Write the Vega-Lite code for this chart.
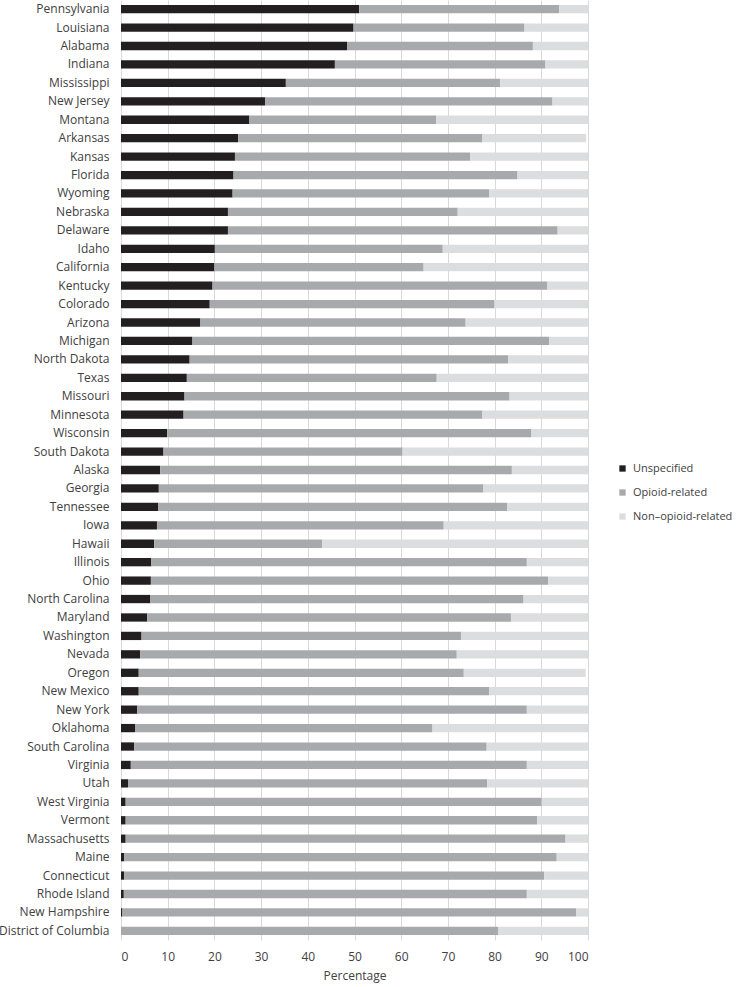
{
  "$schema": "https://vega.github.io/schema/vega-lite/v6.json",
  "autosize": "none",
  "width": 467,
  "height": 940,
  "padding": {"left": 121, "top": 0, "right": 149, "bottom": 47},
  "background": "white",
  "config": {
    "view": {"stroke": null},
    "font": "Open Sans",
    "axis": {"labelFont": "Open Sans", "titleFont": "Open Sans", "labelColor": "#404040", "titleColor": "#404040", "labelFontSize": 12, "titleFontSize": 12, "titleFontWeight": "normal"},
    "legend": {"labelFont": "Open Sans", "labelFontSize": 11, "labelColor": "#404040", "labelLimit": 0}
  },
  "data": {
    "values": [
      {"state": "Pennsylvania", "Unspecified": 51.0, "Opioid-related": 42.8, "Non–opioid-related": 6.2},
      {"state": "Louisiana", "Unspecified": 49.8, "Opioid-related": 36.6, "Non–opioid-related": 13.6},
      {"state": "Alabama", "Unspecified": 48.4, "Opioid-related": 39.8, "Non–opioid-related": 11.8},
      {"state": "Indiana", "Unspecified": 45.8, "Opioid-related": 45.1, "Non–opioid-related": 9.1},
      {"state": "Mississippi", "Unspecified": 35.3, "Opioid-related": 45.9, "Non–opioid-related": 18.8},
      {"state": "New Jersey", "Unspecified": 30.9, "Opioid-related": 61.5, "Non–opioid-related": 7.6},
      {"state": "Montana", "Unspecified": 27.5, "Opioid-related": 40.0, "Non–opioid-related": 32.5},
      {"state": "Arkansas", "Unspecified": 25.1, "Opioid-related": 52.3, "Non–opioid-related": 22.2},
      {"state": "Kansas", "Unspecified": 24.4, "Opioid-related": 50.4, "Non–opioid-related": 25.2},
      {"state": "Florida", "Unspecified": 24.1, "Opioid-related": 60.8, "Non–opioid-related": 15.1},
      {"state": "Wyoming", "Unspecified": 23.9, "Opioid-related": 54.9, "Non–opioid-related": 21.2},
      {"state": "Nebraska", "Unspecified": 22.9, "Opioid-related": 49.2, "Non–opioid-related": 27.9},
      {"state": "Delaware", "Unspecified": 22.9, "Opioid-related": 70.6, "Non–opioid-related": 6.5},
      {"state": "Idaho", "Unspecified": 20.1, "Opioid-related": 48.8, "Non–opioid-related": 31.1},
      {"state": "California", "Unspecified": 20.0, "Opioid-related": 44.8, "Non–opioid-related": 35.2},
      {"state": "Kentucky", "Unspecified": 19.6, "Opioid-related": 71.7, "Non–opioid-related": 8.7},
      {"state": "Colorado", "Unspecified": 19.0, "Opioid-related": 61.0, "Non–opioid-related": 20.0},
      {"state": "Arizona", "Unspecified": 17.0, "Opioid-related": 56.8, "Non–opioid-related": 26.2},
      {"state": "Michigan", "Unspecified": 15.3, "Opioid-related": 76.4, "Non–opioid-related": 8.3},
      {"state": "North Dakota", "Unspecified": 14.7, "Opioid-related": 68.2, "Non–opioid-related": 17.1},
      {"state": "Texas", "Unspecified": 14.1, "Opioid-related": 53.5, "Non–opioid-related": 32.4},
      {"state": "Missouri", "Unspecified": 13.6, "Opioid-related": 69.6, "Non–opioid-related": 16.8},
      {"state": "Minnesota", "Unspecified": 13.4, "Opioid-related": 64.0, "Non–opioid-related": 22.6},
      {"state": "Wisconsin", "Unspecified": 9.9, "Opioid-related": 78.0, "Non–opioid-related": 12.1},
      {"state": "South Dakota", "Unspecified": 9.1, "Opioid-related": 51.2, "Non–opioid-related": 39.7},
      {"state": "Alaska", "Unspecified": 8.4, "Opioid-related": 75.3, "Non–opioid-related": 16.3},
      {"state": "Georgia", "Unspecified": 8.1, "Opioid-related": 69.5, "Non–opioid-related": 22.4},
      {"state": "Tennessee", "Unspecified": 8.0, "Opioid-related": 74.7, "Non–opioid-related": 17.3},
      {"state": "Iowa", "Unspecified": 7.7, "Opioid-related": 61.4, "Non–opioid-related": 30.9},
      {"state": "Hawaii", "Unspecified": 7.1, "Opioid-related": 36.0, "Non–opioid-related": 56.9},
      {"state": "Illinois", "Unspecified": 6.5, "Opioid-related": 80.4, "Non–opioid-related": 13.1},
      {"state": "Ohio", "Unspecified": 6.4, "Opioid-related": 85.1, "Non–opioid-related": 8.5},
      {"state": "North Carolina", "Unspecified": 6.3, "Opioid-related": 79.9, "Non–opioid-related": 13.8},
      {"state": "Maryland", "Unspecified": 5.6, "Opioid-related": 77.9, "Non–opioid-related": 16.5},
      {"state": "Washington", "Unspecified": 4.4, "Opioid-related": 68.4, "Non–opioid-related": 27.2},
      {"state": "Nevada", "Unspecified": 4.1, "Opioid-related": 67.8, "Non–opioid-related": 28.1},
      {"state": "Oregon", "Unspecified": 3.8, "Opioid-related": 69.6, "Non–opioid-related": 26.1},
      {"state": "New Mexico", "Unspecified": 3.8, "Opioid-related": 75.0, "Non–opioid-related": 21.2},
      {"state": "New York", "Unspecified": 3.5, "Opioid-related": 83.4, "Non–opioid-related": 13.1},
      {"state": "Oklahoma", "Unspecified": 3.0, "Opioid-related": 63.7, "Non–opioid-related": 33.3},
      {"state": "South Carolina", "Unspecified": 2.8, "Opioid-related": 75.5, "Non–opioid-related": 21.7},
      {"state": "Virginia", "Unspecified": 2.1, "Opioid-related": 84.8, "Non–opioid-related": 13.1},
      {"state": "Utah", "Unspecified": 1.5, "Opioid-related": 76.9, "Non–opioid-related": 21.6},
      {"state": "West Virginia", "Unspecified": 1.0, "Opioid-related": 89.1, "Non–opioid-related": 9.9},
      {"state": "Vermont", "Unspecified": 1.0, "Opioid-related": 88.1, "Non–opioid-related": 10.9},
      {"state": "Massachusetts", "Unspecified": 1.0, "Opioid-related": 94.2, "Non–opioid-related": 4.8},
      {"state": "Maine", "Unspecified": 0.7, "Opioid-related": 92.6, "Non–opioid-related": 6.7},
      {"state": "Connecticut", "Unspecified": 0.7, "Opioid-related": 89.9, "Non–opioid-related": 9.4},
      {"state": "Rhode Island", "Unspecified": 0.6, "Opioid-related": 86.3, "Non–opioid-related": 13.1},
      {"state": "New Hampshire", "Unspecified": 0.3, "Opioid-related": 97.2, "Non–opioid-related": 2.5},
      {"state": "District of Columbia", "Unspecified": 0.0, "Opioid-related": 80.8, "Non–opioid-related": 19.2}
    ]
  },
  "transform": [
    {"fold": ["Unspecified", "Opioid-related", "Non–opioid-related"], "as": ["category", "value"]}
  ],
  "mark": {"type": "bar"},
  "encoding": {
    "y": {
      "field": "state", "type": "nominal", "sort": null,
      "scale": {"paddingInner": 0.55, "paddingOuter": 0.27},
      "axis": {"title": null, "domain": false, "ticks": false, "grid": false, "labelPadding": 12}
    },
    "x": {
      "field": "value", "type": "quantitative", "stack": "zero",
      "scale": {"domain": [0, 100], "nice": false},
      "axis": {"title": "Percentage", "values": [0, 10, 20, 30, 40, 50, 60, 70, 80, 90, 100], "domain": false, "ticks": false, "grid": true, "gridColor": "#d9d9d9", "gridWidth": 1, "labelPadding": 11, "titlePadding": 8}
    },
    "color": {
      "field": "category", "type": "nominal",
      "scale": {"domain": ["Unspecified", "Opioid-related", "Non–opioid-related"], "range": ["#231f20", "#a7a9ac", "#dcddde"]},
      "legend": {"title": null, "orient": "none", "legendX": 496, "legendY": 463, "symbolType": "square", "symbolSize": 40, "symbolStrokeWidth": 0, "rowPadding": 12, "labelOffset": 5, "padding": 0}
    },
    "order": {"field": "category", "sort": "descending"}
  }
}
